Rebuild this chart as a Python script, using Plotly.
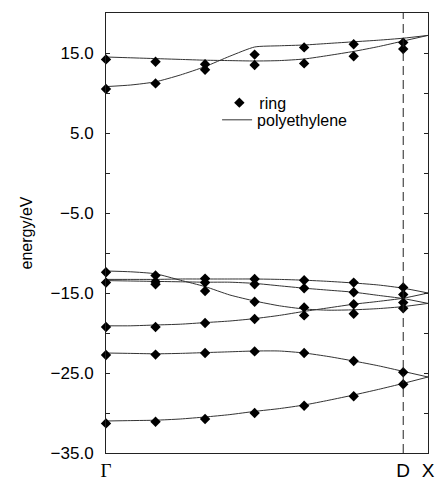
import plotly.graph_objects as go

# ---- axis labels / positions ----
k_ticks = [0, 6, 6.5]
k_labels = ['<span style="font-family:\'Liberation Serif\'">Γ</span>', 'D', 'X']
D_pos = 6
y_range = [-35, 20]

# ---- polyethylene bands (lines), sampled along k ----
k_line = [0, 0.5, 1, 1.5, 2, 2.5, 3, 3.5, 4, 4.5, 5, 5.5, 6, 6.5]
band_top_a = [14.5, 14.4, 14.3, 14.2, 14.1, 14.05, 14.0, 14.05, 14.25, 14.7, 15.2, 15.8, 16.5, 17.2]
band_top_b = [10.8, 11.0, 11.4, 12.25, 13.3, 14.6, 15.75, 15.9, 16.0, 16.2, 16.4, 16.6, 16.85, 17.2]
band_mid_1 = [-13.3, -13.3, -13.3, -13.25, -13.25, -13.25, -13.25, -13.3, -13.4, -13.55, -13.75, -14.0, -14.4, -15.0]
band_mid_2 = [-13.45, -13.5, -13.55, -13.6, -13.65, -13.65, -13.8, -14.1, -14.4, -14.65, -14.9, -15.3, -15.7, -16.3]
band_mid_3 = [-12.25, -12.35, -12.6, -13.4, -14.2, -15.25, -16.0, -16.6, -17.0, -17.15, -17.1, -16.95, -16.7, -16.3]
band_mid_4 = [-19.1, -19.1, -19.0, -18.9, -18.7, -18.5, -18.2, -17.8, -17.3, -16.85, -16.4, -16.05, -15.65, -15.0]
band_low_1 = [-22.5, -22.55, -22.6, -22.55, -22.45, -22.35, -22.25, -22.25, -22.5, -22.95, -23.5, -24.1, -24.8, -25.5]
band_low_2 = [-31.0, -30.95, -30.9, -30.75, -30.5, -30.2, -29.8, -29.45, -29.0, -28.4, -27.75, -27.05, -26.3, -25.5]
bands = [band_top_a, band_top_b, band_mid_1, band_mid_2, band_mid_3, band_mid_4, band_low_1, band_low_2]

# ---- ring energies (markers) at each k point ----
ring_k = [0, 1, 2, 3, 4, 5, 6]
ring_e = [
    [14.2, 10.5, -12.4, -13.7, -19.25, -22.75, -31.3],
    [13.9, 11.2, -12.8, -13.6, -13.9, -19.25, -22.7, -31.1],
    [13.6, 12.9, -13.2, -13.7, -14.75, -18.75, -22.5, -30.75],
    [14.8, 13.5, -13.25, -13.9, -16.1, -18.25, -22.3, -30.0],
    [15.7, 13.7, -13.4, -14.4, -16.8, -17.8, -22.5, -29.1],
    [16.1, 14.6, -13.7, -14.9, -16.4, -17.6, -23.5, -27.9],
    [16.3, 15.5, -14.3, -15.2, -16.2, -16.9, -24.9, -26.4],
]

ring_x = [k for k, es in zip(ring_k, ring_e) for _ in es]
ring_y = [e for es in ring_e for e in es]

FONT = "Liberation Sans, Arial, Helvetica, sans-serif"
LINE_COL = "#333333"

fig = go.Figure()

for i, b in enumerate(bands):
    fig.add_trace(go.Scatter(
        x=k_line, y=b, mode="lines", name="polyethylene",
        line=dict(color=LINE_COL, width=1, shape="spline", smoothing=0.6),
        legendgroup="pe", showlegend=(i == 0), legend="legend2",
    ))

fig.add_trace(go.Scatter(
    x=ring_x, y=ring_y, mode="markers", name="ring",
    marker=dict(symbol="diamond", size=8, color="black"),
    cliponaxis=False, legend="legend",
))

fig.add_vline(x=D_pos, line=dict(color="#222222", width=1, dash="9px,5px"))

fig.update_layout(
    width=435, height=480,
    margin=dict(l=106, r=7, t=13, b=27, autoexpand=False),
    paper_bgcolor="white", plot_bgcolor="white",
    font=dict(family=FONT, size=17, color="black"),
    showlegend=True,
    legend=dict(x=0.352, y=0.796, xanchor="left", yanchor="middle",
                bgcolor="rgba(0,0,0,0)", borderwidth=0, font=dict(size=16)),
    legend2=dict(x=0.345, y=0.757, xanchor="left", yanchor="middle",
                 bgcolor="rgba(0,0,0,0)", borderwidth=0, font=dict(size=16)),
)

fig.update_xaxes(
    range=[0, 6.5], tickmode="array", tickvals=k_ticks, ticktext=k_labels,
    ticks="", ticklen=0, showgrid=False, zeroline=False, automargin=False,
    showline=True, mirror=True, linecolor="#222", linewidth=1,
    tickfont=dict(size=19, family=FONT), ticklabelstandoff=0,
    ticklabeloverflow="allow",
)
fig.update_yaxes(
    range=y_range, tickmode="linear", tick0=-35, dtick=10, tickformat=".1f",
    ticks="inside", ticklen=4, tickcolor="#222",
    minor=dict(dtick=5, tick0=-35, ticks="inside", ticklen=4, tickcolor="#222"),
    showgrid=False, zeroline=False, automargin=False,
    showline=True, mirror="ticks", linecolor="#222", linewidth=1,
    ticklabelstandoff=8,
    title=dict(text="energy/eV", font=dict(size=16), standoff=13),
)

fig.write_html("out.html")
